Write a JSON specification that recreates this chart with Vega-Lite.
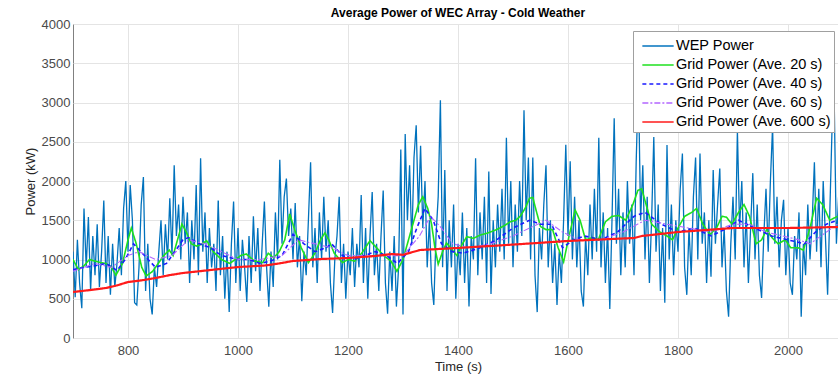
{
  "$schema": "https://vega.github.io/schema/vega-lite/v6.json",
  "autosize": "none",
  "padding": {"left": 73, "top": 24, "right": 0, "bottom": 39},
  "width": 770,
  "height": 314,
  "background": "white",
  "title": {"text": "Average Power of WEC Array - Cold Weather", "fontSize": 12, "fontWeight": "bold", "font": "Liberation Sans", "color": "#000", "anchor": "middle", "offset": -2, "frame": "group"},
  "config": {
    "view": {"stroke": "#808080", "strokeWidth": 1},
    "axis": {"domain": false, "ticks": false, "grid": true, "gridColor": "#e4e4e4", "gridWidth": 1, "labelFont": "Liberation Sans", "labelFontSize": 13, "labelColor": "#4a4a4a", "titleFont": "Liberation Sans", "titleFontSize": 13, "titleFontWeight": "normal", "titleColor": "#262626"},
    "legend": {"orient": "none", "legendX": 560, "legendY": 7, "fillColor": "white", "strokeColor": "#a0a0a0", "padding": 3, "symbolType": "M-1.4,0H1.4", "symbolSize": 500, "symbolOffset": 10, "symbolStrokeWidth": 1.6, "labelFontSize": 14.5, "labelFont": "Liberation Sans", "labelColor": "#000", "rowPadding": 0, "labelOffset": 6, "title": null}
  },
  "datasets": {
    "wep": [
      {"t":700,"p":1100},{"t":704,"p":520},{"t":708,"p":1250},{"t":712,"p":700},{"t":716,"p":380},{"t":720,"p":1650},{"t":724,"p":900},{"t":728,"p":1540},{"t":732,"p":600},{"t":736,"p":1300},
      {"t":740,"p":800},{"t":744,"p":1450},{"t":748,"p":650},{"t":752,"p":1100},{"t":756,"p":1750},{"t":760,"p":700},{"t":764,"p":1300},{"t":768,"p":550},{"t":772,"p":1200},{"t":776,"p":650},
      {"t":780,"p":950},{"t":784,"p":1400},{"t":788,"p":800},{"t":792,"p":1650},{"t":796,"p":2000},{"t":800,"p":1100},{"t":804,"p":1950},{"t":808,"p":1500},{"t":812,"p":450},{"t":816,"p":420},
      {"t":820,"p":900},{"t":824,"p":1700},{"t":828,"p":2050},{"t":832,"p":600},{"t":836,"p":1200},{"t":840,"p":500},{"t":844,"p":300},{"t":848,"p":900},{"t":852,"p":650},{"t":856,"p":1100},
      {"t":860,"p":1500},{"t":864,"p":800},{"t":868,"p":1450},{"t":872,"p":1000},{"t":876,"p":1780},{"t":880,"p":1050},{"t":884,"p":2200},{"t":888,"p":1300},{"t":892,"p":1700},{"t":896,"p":1000},
      {"t":900,"p":1800},{"t":904,"p":1200},{"t":908,"p":1600},{"t":912,"p":700},{"t":916,"p":1500},{"t":920,"p":1000},{"t":924,"p":1950},{"t":928,"p":800},{"t":932,"p":2290},{"t":936,"p":1100},
      {"t":940,"p":1600},{"t":944,"p":700},{"t":948,"p":1400},{"t":952,"p":900},{"t":956,"p":1200},{"t":960,"p":600},{"t":964,"p":1750},{"t":968,"p":800},{"t":972,"p":1300},{"t":976,"p":500},
      {"t":980,"p":1100},{"t":984,"p":330},{"t":988,"p":1200},{"t":992,"p":1740},{"t":996,"p":700},{"t":1000,"p":1400},{"t":1004,"p":600},{"t":1008,"p":1250},{"t":1012,"p":900},{"t":1016,"p":460},
      {"t":1020,"p":1300},{"t":1024,"p":700},{"t":1028,"p":1550},{"t":1032,"p":850},{"t":1036,"p":1400},{"t":1040,"p":600},{"t":1044,"p":1200},{"t":1048,"p":1740},{"t":1052,"p":900},{"t":1056,"p":400},
      {"t":1060,"p":1100},{"t":1064,"p":650},{"t":1068,"p":1600},{"t":1072,"p":1000},{"t":1076,"p":2270},{"t":1080,"p":1200},{"t":1084,"p":1800},{"t":1088,"p":2030},{"t":1092,"p":1300},{"t":1096,"p":1650},
      {"t":1100,"p":1000},{"t":1104,"p":1720},{"t":1108,"p":900},{"t":1112,"p":1300},{"t":1116,"p":470},{"t":1120,"p":1100},{"t":1124,"p":800},{"t":1128,"p":1500},{"t":1132,"p":2240},{"t":1136,"p":900},
      {"t":1140,"p":1400},{"t":1144,"p":700},{"t":1148,"p":1600},{"t":1152,"p":1000},{"t":1156,"p":1800},{"t":1160,"p":1100},{"t":1164,"p":1500},{"t":1168,"p":700},{"t":1172,"p":320},{"t":1176,"p":1000},
      {"t":1180,"p":1300},{"t":1184,"p":1800},{"t":1188,"p":700},{"t":1192,"p":1200},{"t":1196,"p":500},{"t":1200,"p":1100},{"t":1204,"p":800},{"t":1208,"p":1400},{"t":1212,"p":650},{"t":1216,"p":1200},
      {"t":1220,"p":900},{"t":1224,"p":1820},{"t":1228,"p":700},{"t":1232,"p":1400},{"t":1236,"p":500},{"t":1240,"p":1300},{"t":1244,"p":1860},{"t":1248,"p":800},{"t":1252,"p":1200},{"t":1256,"p":600},
      {"t":1260,"p":1300},{"t":1264,"p":1880},{"t":1268,"p":700},{"t":1272,"p":310},{"t":1276,"p":1100},{"t":1280,"p":600},{"t":1284,"p":1300},{"t":1288,"p":400},{"t":1292,"p":900},{"t":1296,"p":2400},
      {"t":1300,"p":300},{"t":1304,"p":2600},{"t":1308,"p":1500},{"t":1312,"p":2200},{"t":1316,"p":1200},{"t":1320,"p":2300},{"t":1324,"p":2710},{"t":1328,"p":1600},{"t":1332,"p":2450},{"t":1336,"p":1400},
      {"t":1340,"p":2000},{"t":1344,"p":900},{"t":1348,"p":1500},{"t":1352,"p":700},{"t":1356,"p":420},{"t":1360,"p":1300},{"t":1364,"p":1800},{"t":1368,"p":3030},{"t":1372,"p":900},{"t":1376,"p":2140},
      {"t":1380,"p":600},{"t":1384,"p":1500},{"t":1388,"p":900},{"t":1392,"p":1700},{"t":1396,"p":500},{"t":1400,"p":1200},{"t":1404,"p":800},{"t":1408,"p":1600},{"t":1412,"p":700},{"t":1416,"p":1400},
      {"t":1420,"p":400},{"t":1424,"p":1300},{"t":1428,"p":1000},{"t":1432,"p":2290},{"t":1436,"p":800},{"t":1440,"p":1600},{"t":1444,"p":1000},{"t":1448,"p":1800},{"t":1452,"p":700},{"t":1456,"p":2120},
      {"t":1460,"p":560},{"t":1464,"p":1500},{"t":1468,"p":900},{"t":1472,"p":1700},{"t":1476,"p":1100},{"t":1480,"p":1900},{"t":1484,"p":1000},{"t":1488,"p":2550},{"t":1492,"p":1200},{"t":1496,"p":2000},
      {"t":1500,"p":900},{"t":1504,"p":1700},{"t":1508,"p":1100},{"t":1512,"p":2000},{"t":1516,"p":1300},{"t":1520,"p":2900},{"t":1524,"p":1500},{"t":1528,"p":2300},{"t":1532,"p":1000},{"t":1536,"p":2300},
      {"t":1540,"p":800},{"t":1544,"p":330},{"t":1548,"p":1400},{"t":1552,"p":1000},{"t":1556,"p":1700},{"t":1560,"p":2200},{"t":1564,"p":900},{"t":1568,"p":1500},{"t":1572,"p":700},{"t":1576,"p":1200},
      {"t":1580,"p":420},{"t":1584,"p":1100},{"t":1588,"p":700},{"t":1592,"p":1500},{"t":1596,"p":2460},{"t":1600,"p":1300},{"t":1604,"p":2250},{"t":1608,"p":1000},{"t":1612,"p":1800},{"t":1616,"p":900},
      {"t":1620,"p":1500},{"t":1624,"p":600},{"t":1628,"p":400},{"t":1632,"p":1300},{"t":1636,"p":800},{"t":1640,"p":1700},{"t":1644,"p":1000},{"t":1648,"p":1900},{"t":1652,"p":1100},{"t":1656,"p":2550},
      {"t":1660,"p":900},{"t":1664,"p":1600},{"t":1668,"p":700},{"t":1672,"p":1400},{"t":1676,"p":370},{"t":1680,"p":1500},{"t":1684,"p":2800},{"t":1688,"p":1200},{"t":1692,"p":1900},{"t":1696,"p":800},
      {"t":1700,"p":1600},{"t":1704,"p":900},{"t":1708,"p":2000},{"t":1712,"p":1200},{"t":1716,"p":1700},{"t":1720,"p":800},{"t":1724,"p":2250},{"t":1728,"p":3300},{"t":1732,"p":1500},{"t":1736,"p":2200},
      {"t":1740,"p":1000},{"t":1744,"p":1800},{"t":1748,"p":700},{"t":1752,"p":1500},{"t":1756,"p":2560},{"t":1760,"p":1100},{"t":1764,"p":1700},{"t":1768,"p":600},{"t":1772,"p":1400},{"t":1776,"p":450},
      {"t":1780,"p":2460},{"t":1784,"p":1000},{"t":1788,"p":1700},{"t":1792,"p":800},{"t":1796,"p":1500},{"t":1800,"p":1100},{"t":1804,"p":1900},{"t":1808,"p":2350},{"t":1812,"p":900},{"t":1816,"p":550},
      {"t":1820,"p":1400},{"t":1824,"p":800},{"t":1828,"p":1800},{"t":1832,"p":2300},{"t":1836,"p":1000},{"t":1840,"p":2350},{"t":1844,"p":1200},{"t":1848,"p":1600},{"t":1852,"p":700},{"t":1856,"p":1500},
      {"t":1860,"p":780},{"t":1864,"p":2140},{"t":1868,"p":1200},{"t":1872,"p":1700},{"t":1876,"p":2160},{"t":1880,"p":900},{"t":1884,"p":1400},{"t":1888,"p":600},{"t":1892,"p":270},{"t":1896,"p":1200},
      {"t":1900,"p":1800},{"t":1904,"p":1000},{"t":1908,"p":2650},{"t":1912,"p":1400},{"t":1916,"p":2000},{"t":1920,"p":900},{"t":1924,"p":1600},{"t":1928,"p":700},{"t":1932,"p":1400},{"t":1936,"p":2100},
      {"t":1940,"p":1000},{"t":1944,"p":1700},{"t":1948,"p":800},{"t":1952,"p":510},{"t":1956,"p":1300},{"t":1960,"p":1900},{"t":1964,"p":1100},{"t":1968,"p":2000},{"t":1972,"p":2700},{"t":1976,"p":1200},
      {"t":1980,"p":1800},{"t":1984,"p":900},{"t":1988,"p":1500},{"t":1992,"p":1760},{"t":1996,"p":800},{"t":2000,"p":1400},{"t":2004,"p":700},{"t":2008,"p":550},{"t":2012,"p":1300},{"t":2016,"p":1000},
      {"t":2020,"p":1600},{"t":2024,"p":270},{"t":2028,"p":1200},{"t":2032,"p":800},{"t":2036,"p":1700},{"t":2040,"p":1000},{"t":2044,"p":1500},{"t":2048,"p":2240},{"t":2052,"p":1100},{"t":2056,"p":1900},
      {"t":2060,"p":900},{"t":2064,"p":2000},{"t":2068,"p":1300},{"t":2072,"p":550},{"t":2076,"p":1600},{"t":2080,"p":2650},{"t":2084,"p":3030},{"t":2088,"p":1200},{"t":2092,"p":1800}
    ],
    "g20": [
      {"t":700,"p":1000},{"t":710,"p":870},{"t":720,"p":920},{"t":730,"p":1000},{"t":740,"p":980},{"t":750,"p":960},{"t":760,"p":950},{"t":770,"p":900},{"t":778,"p":800},{"t":790,"p":950},
      {"t":800,"p":1250},{"t":806,"p":1400},{"t":815,"p":1200},{"t":825,"p":900},{"t":833,"p":790},{"t":845,"p":850},{"t":855,"p":950},{"t":865,"p":1050},{"t":875,"p":1120},{"t":882,"p":1050},
      {"t":890,"p":1250},{"t":898,"p":1450},{"t":906,"p":1350},{"t":915,"p":1200},{"t":925,"p":1170},{"t":935,"p":1200},{"t":943,"p":1240},{"t":955,"p":1100},{"t":970,"p":1000},{"t":985,"p":950},
      {"t":995,"p":1000},{"t":1005,"p":1050},{"t":1015,"p":1070},{"t":1030,"p":980},{"t":1045,"p":960},{"t":1055,"p":1080},{"t":1065,"p":1020},{"t":1075,"p":1100},{"t":1085,"p":1250},{"t":1094,"p":1580},
      {"t":1103,"p":1380},{"t":1115,"p":1150},{"t":1128,"p":960},{"t":1140,"p":1080},{"t":1150,"p":1250},{"t":1158,"p":1340},{"t":1165,"p":1250},{"t":1175,"p":1080},{"t":1190,"p":960},{"t":1200,"p":1000},
      {"t":1212,"p":980},{"t":1225,"p":1080},{"t":1240,"p":1240},{"t":1252,"p":1150},{"t":1265,"p":1050},{"t":1278,"p":980},{"t":1289,"p":850},{"t":1300,"p":1000},{"t":1310,"p":1250},{"t":1320,"p":1500},
      {"t":1328,"p":1700},{"t":1336,"p":1800},{"t":1345,"p":1650},{"t":1352,"p":1450},{"t":1358,"p":1150},{"t":1364,"p":940},{"t":1372,"p":1100},{"t":1379,"p":1210},{"t":1390,"p":1120},{"t":1398,"p":1050},
      {"t":1408,"p":1200},{"t":1416,"p":1290},{"t":1428,"p":1270},{"t":1440,"p":1310},{"t":1455,"p":1340},{"t":1470,"p":1380},{"t":1484,"p":1430},{"t":1495,"p":1480},{"t":1505,"p":1500},{"t":1513,"p":1550},
      {"t":1522,"p":1650},{"t":1530,"p":1780},{"t":1536,"p":1790},{"t":1543,"p":1600},{"t":1550,"p":1420},{"t":1560,"p":1380},{"t":1572,"p":1380},{"t":1582,"p":1150},{"t":1592,"p":970},{"t":1602,"p":1300},
      {"t":1613,"p":1630},{"t":1622,"p":1500},{"t":1632,"p":1250},{"t":1645,"p":1280},{"t":1655,"p":1250},{"t":1668,"p":1480},{"t":1680,"p":1550},{"t":1692,"p":1560},{"t":1705,"p":1500},{"t":1718,"p":1700},
      {"t":1727,"p":1880},{"t":1734,"p":1900},{"t":1742,"p":1700},{"t":1752,"p":1450},{"t":1767,"p":1350},{"t":1780,"p":1300},{"t":1790,"p":1250},{"t":1800,"p":1400},{"t":1812,"p":1550},{"t":1825,"p":1600},
      {"t":1834,"p":1650},{"t":1845,"p":1450},{"t":1858,"p":1320},{"t":1870,"p":1400},{"t":1880,"p":1550},{"t":1888,"p":1540},{"t":1898,"p":1450},{"t":1910,"p":1600},{"t":1920,"p":1700},{"t":1930,"p":1550},
      {"t":1942,"p":1200},{"t":1952,"p":1250},{"t":1961,"p":1380},{"t":1972,"p":1270},{"t":1982,"p":1200},{"t":1995,"p":1250},{"t":2005,"p":1150},{"t":2018,"p":1150},{"t":2028,"p":1120},{"t":2040,"p":1400},
      {"t":2052,"p":1780},{"t":2063,"p":1700},{"t":2076,"p":1500},{"t":2090,"p":1550}
    ],
    "g40": [
      {"t":700,"p":870},{"t":720,"p":900},{"t":740,"p":920},{"t":760,"p":950},{"t":780,"p":860},{"t":795,"p":1000},{"t":810,"p":1200},{"t":830,"p":1050},{"t":850,"p":900},{"t":870,"p":950},
      {"t":885,"p":1100},{"t":900,"p":1250},{"t":910,"p":1280},{"t":930,"p":1200},{"t":950,"p":1150},{"t":970,"p":1050},{"t":1000,"p":1000},{"t":1020,"p":1000},{"t":1040,"p":950},{"t":1060,"p":980},
      {"t":1080,"p":1050},{"t":1100,"p":1320},{"t":1120,"p":1200},{"t":1140,"p":1100},{"t":1160,"p":1150},{"t":1170,"p":1200},{"t":1190,"p":1050},{"t":1210,"p":1000},{"t":1230,"p":1050},{"t":1250,"p":1100},
      {"t":1270,"p":1050},{"t":1290,"p":950},{"t":1310,"p":1100},{"t":1325,"p":1400},{"t":1340,"p":1650},{"t":1355,"p":1500},{"t":1370,"p":1200},{"t":1390,"p":1100},{"t":1410,"p":1080},{"t":1440,"p":1150},
      {"t":1470,"p":1250},{"t":1500,"p":1400},{"t":1530,"p":1500},{"t":1550,"p":1450},{"t":1570,"p":1450},{"t":1590,"p":1150},{"t":1610,"p":1250},{"t":1630,"p":1300},{"t":1660,"p":1250},{"t":1690,"p":1350},
      {"t":1720,"p":1550},{"t":1740,"p":1600},{"t":1770,"p":1450},{"t":1800,"p":1350},{"t":1830,"p":1400},{"t":1860,"p":1300},{"t":1890,"p":1400},{"t":1910,"p":1500},{"t":1940,"p":1400},{"t":1970,"p":1300},
      {"t":2000,"p":1250},{"t":2030,"p":1200},{"t":2050,"p":1350},{"t":2070,"p":1450},{"t":2090,"p":1500}
    ],
    "g60": [
      {"t":700,"p":850},{"t":740,"p":950},{"t":770,"p":900},{"t":800,"p":1050},{"t":820,"p":1100},{"t":850,"p":1000},{"t":880,"p":1050},{"t":910,"p":1250},{"t":940,"p":1200},{"t":970,"p":1100},
      {"t":1000,"p":1000},{"t":1040,"p":1000},{"t":1080,"p":1050},{"t":1110,"p":1250},{"t":1140,"p":1200},{"t":1170,"p":1150},{"t":1200,"p":1050},{"t":1240,"p":1050},{"t":1280,"p":1050},{"t":1300,"p":1050},
      {"t":1330,"p":1300},{"t":1350,"p":1550},{"t":1370,"p":1400},{"t":1390,"p":1200},{"t":1420,"p":1150},{"t":1460,"p":1200},{"t":1500,"p":1300},{"t":1530,"p":1400},{"t":1560,"p":1500},{"t":1590,"p":1350},
      {"t":1620,"p":1250},{"t":1660,"p":1250},{"t":1700,"p":1350},{"t":1740,"p":1500},{"t":1780,"p":1450},{"t":1820,"p":1400},{"t":1860,"p":1350},{"t":1900,"p":1450},{"t":1930,"p":1450},{"t":1960,"p":1350},
      {"t":1990,"p":1300},{"t":2020,"p":1250},{"t":2040,"p":1200},{"t":2070,"p":1350},{"t":2090,"p":1450}
    ],
    "g600": [
      {"t":700,"p":586},{"t":730,"p":610},{"t":760,"p":637},{"t":780,"p":670},{"t":800,"p":713},{"t":825,"p":735},{"t":850,"p":764},{"t":875,"p":800},{"t":900,"p":828},{"t":950,"p":866},
      {"t":1000,"p":904},{"t":1050,"p":924},{"t":1075,"p":950},{"t":1100,"p":981},{"t":1150,"p":1006},{"t":1200,"p":1019},{"t":1250,"p":1045},{"t":1280,"p":1070},{"t":1300,"p":1060},{"t":1331,"p":1121},
      {"t":1400,"p":1147},{"t":1500,"p":1190},{"t":1600,"p":1236},{"t":1720,"p":1274},{"t":1735,"p":1300},{"t":1800,"p":1350},{"t":1850,"p":1375},{"t":1900,"p":1401},{"t":2000,"p":1401},{"t":2092,"p":1414}
    ]
  },
  "encoding": {
    "x": {"field": "t", "type": "quantitative", "scale": {"domain": [700, 2100], "nice": false}, "axis": {"values": [800, 1000, 1200, 1400, 1600, 1800, 2000], "title": "Time (s)", "labelPadding": 6, "titlePadding": 3, "format": "d"}},
    "y": {"field": "p", "type": "quantitative", "scale": {"domain": [0, 4000], "nice": false}, "axis": {"values": [0, 500, 1000, 1500, 2000, 2500, 3000, 3500, 4000], "title": "Power (kW)", "labelPadding": 3, "titlePadding": 4, "format": "d"}}
  },
  "layer": [
    {"data": {"name": "wep"}, "mark": {"type": "line", "strokeWidth": 1.3, "clip": true},
     "encoding": {"color": {"datum": "WEP Power", "scale": {"domain": ["WEP Power", "Grid Power (Ave. 20 s)", "Grid Power (Ave. 40 s)", "Grid Power (Ave. 60 s)", "Grid Power (Ave. 600 s)"], "range": ["#0072BD", "#1ee01e", "#1a1aff", "#b366ff", "#ff1a1a"]}},
                  "strokeDash": {"datum": "WEP Power", "scale": {"domain": ["WEP Power", "Grid Power (Ave. 20 s)", "Grid Power (Ave. 40 s)", "Grid Power (Ave. 60 s)", "Grid Power (Ave. 600 s)"], "range": [[1, 0], [1, 0], [4, 3], [6, 2, 2, 2], [1, 0]]}}}},
    {"data": {"name": "g20"}, "mark": {"type": "line", "strokeWidth": 1.6, "clip": true},
     "encoding": {"color": {"datum": "Grid Power (Ave. 20 s)"}, "strokeDash": {"datum": "Grid Power (Ave. 20 s)"}}},
    {"data": {"name": "g40"}, "mark": {"type": "line", "strokeWidth": 1.6, "clip": true},
     "encoding": {"color": {"datum": "Grid Power (Ave. 40 s)"}, "strokeDash": {"datum": "Grid Power (Ave. 40 s)"}}},
    {"data": {"name": "g60"}, "mark": {"type": "line", "strokeWidth": 1.1, "clip": true},
     "encoding": {"color": {"datum": "Grid Power (Ave. 60 s)"}, "strokeDash": {"datum": "Grid Power (Ave. 60 s)"}}},
    {"data": {"name": "g600"}, "mark": {"type": "line", "strokeWidth": 2.2, "clip": true},
     "encoding": {"color": {"datum": "Grid Power (Ave. 600 s)"}, "strokeDash": {"datum": "Grid Power (Ave. 600 s)"}}}
  ]
}
